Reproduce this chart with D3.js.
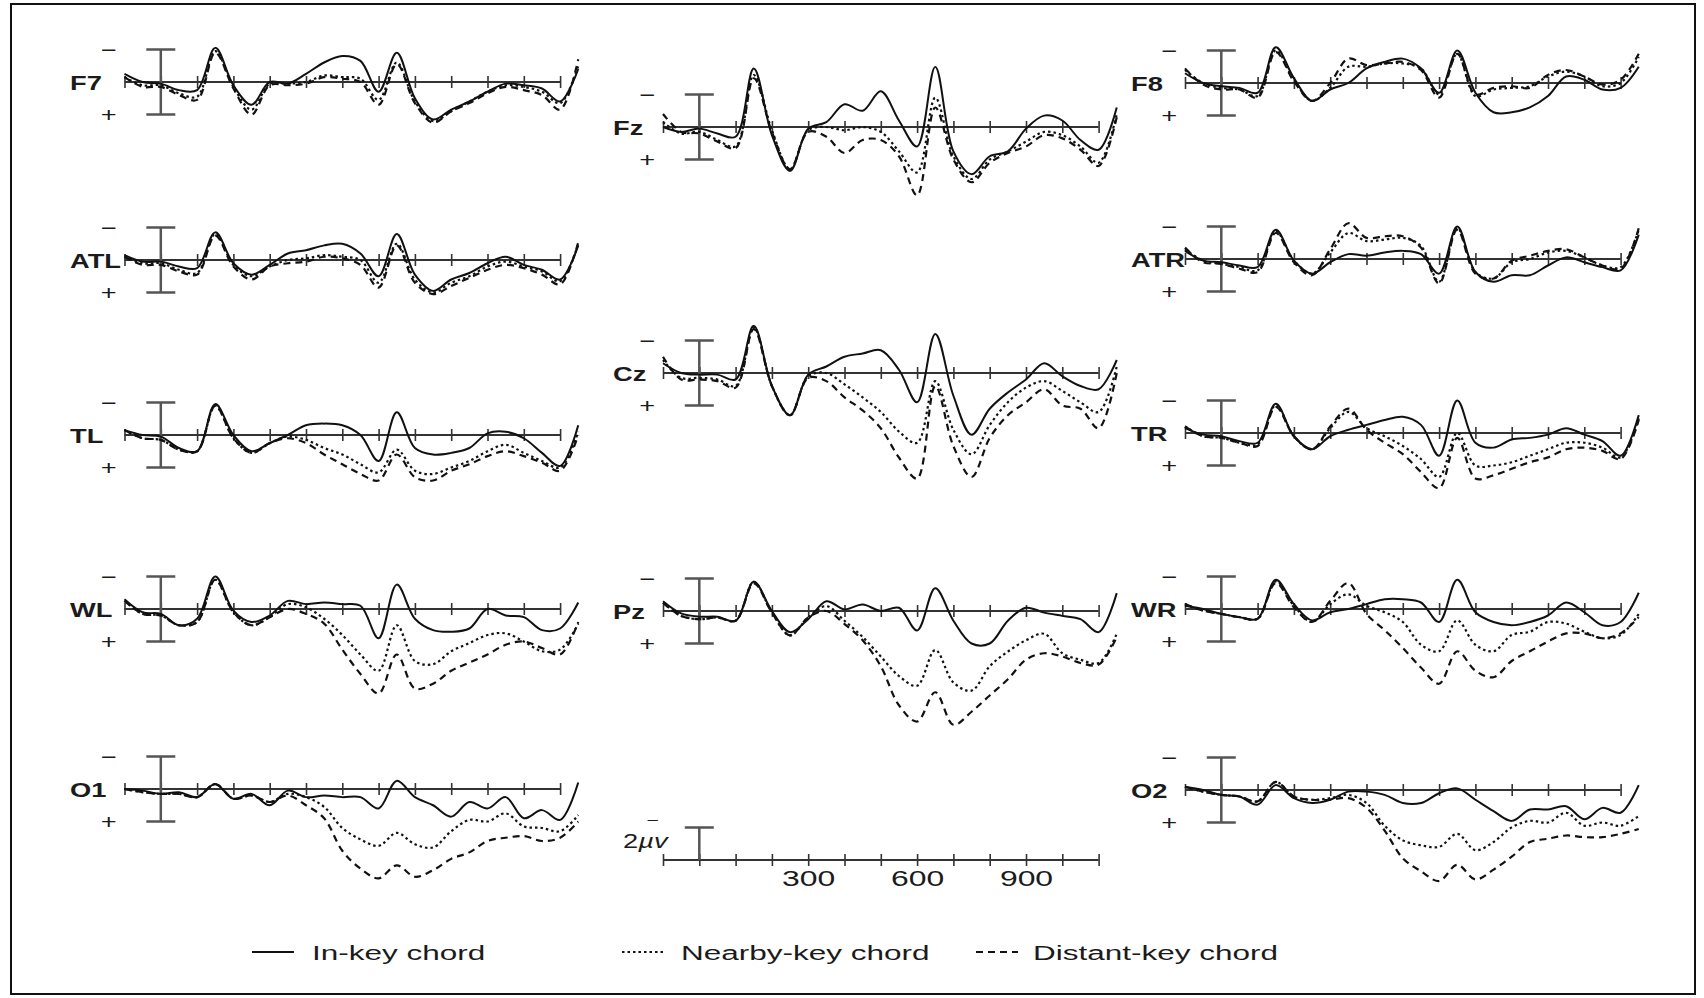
<!DOCTYPE html>
<html>
<head lang="en">
    <meta charset="UTF-8">
    <script type="text/javascript" src="https://cdn.jsdelivr.net/npm/d3@7"></script>
    <title></title>
</head>
<body style="margin:0;background:#fff;">
<style>
    svg text{
        font-family: "Liberation Sans", Arial, Helvetica, sans-serif;
        fill: #1b1b1b;
    }
</style>
<script type="text/javascript">
    // sample times (ms), one value every 50 ms
    var times = [-100,-50,0,50,100,150,200,250,300,350,400,450,500,550,600,650,700,750,800,850,900,950,1000,1050,1100,1150];

    // amplitudes in microvolts, negative is drawn upward
    var F7_in   = [-0.5,0.0,0.1,0.5,0.5,-2.1,0.2,1.4,0.0,0.1,-0.5,-1.2,-1.6,-1.3,0.6,-1.8,1.0,2.3,1.7,1.2,0.6,0.1,0.2,0.4,1.2,-0.8];
    var F7_near = [-0.3,0.2,0.2,0.7,0.9,-1.9,0.3,1.7,0.1,0.1,0.0,-0.4,-0.3,-0.2,1.1,-1.2,1.2,2.4,1.8,1.2,0.6,0.2,0.3,0.6,1.3,-1.0];
    var F7_far  = [-0.3,0.3,0.3,0.8,1.1,-1.8,0.4,2.0,0.2,0.2,0.1,-0.3,-0.2,0.0,1.4,-1.1,1.3,2.5,1.8,1.3,0.7,0.3,0.5,0.8,1.7,-1.4];

    var ATL_in   = [-0.3,0.1,0.1,0.4,0.5,-1.7,0.2,0.9,0.3,-0.4,-0.6,-0.9,-1.0,-0.4,1.0,-1.6,0.9,1.9,1.2,0.8,0.2,-0.2,0.3,0.6,1.2,-0.9];
    var ATL_near = [-0.2,0.2,0.2,0.6,0.8,-1.6,0.3,1.0,0.4,0.0,-0.1,-0.3,-0.2,0.0,1.4,-1.0,1.2,2.0,1.4,1.0,0.4,0.1,0.4,0.7,1.3,-1.0];
    var ATL_far  = [-0.2,0.3,0.3,0.7,0.9,-1.5,0.4,1.2,0.4,0.2,0.1,-0.2,-0.1,0.3,1.7,-0.9,1.4,2.1,1.6,1.1,0.6,0.3,0.5,0.9,1.5,-1.1];

    var TL_in   = [-0.3,0.0,0.1,0.8,1.0,-1.9,0.0,1.0,0.5,0.0,-0.6,-0.7,-0.6,0.0,1.6,-1.4,0.8,1.2,1.1,0.8,-0.1,-0.2,0.2,1.1,1.9,-0.6];
    var TL_near = [-0.3,0.2,0.3,0.9,1.0,-1.8,0.2,1.1,0.5,0.1,0.3,0.8,1.2,1.8,2.3,0.9,2.2,2.4,2.0,1.6,1.0,0.6,1.1,1.6,2.0,-0.2];
    var TL_far  = [-0.3,0.2,0.3,0.9,1.0,-1.8,0.2,1.1,0.5,0.2,0.5,1.2,1.8,2.4,2.8,1.2,2.6,2.8,2.2,1.8,1.3,1.0,1.3,1.7,2.2,0.0];

    var WL_in   = [-0.6,0.2,0.3,1.0,0.6,-2.0,0.1,0.8,0.4,-0.5,-0.3,-0.4,-0.3,-0.2,1.8,-1.5,0.6,1.3,1.4,1.2,0.0,0.4,0.5,1.3,1.2,-0.4];
    var WL_near = [-0.5,0.3,0.4,1.0,0.8,-1.8,0.2,1.0,0.5,-0.3,-0.1,0.6,1.6,2.8,3.8,1.0,3.2,3.4,2.6,2.1,1.6,1.5,2.0,2.6,2.5,0.9];
    var WL_far  = [-0.5,0.3,0.4,1.0,0.8,-1.8,0.2,1.0,0.5,0.0,0.3,0.9,2.5,4.0,5.2,2.8,4.9,4.6,3.8,3.3,2.8,2.2,2.0,2.4,2.8,0.8];

    var O1_in   = [0.0,0.1,0.3,0.2,0.5,-0.3,0.6,0.3,1.0,0.1,0.5,0.4,0.5,0.5,1.2,-0.5,0.5,1.0,1.7,0.8,1.2,0.5,1.8,1.3,1.9,-0.4];
    var O1_near = [0.0,0.2,0.3,0.3,0.5,-0.3,0.6,0.4,0.8,0.3,0.5,1.1,2.4,3.1,3.5,2.7,3.4,3.6,2.6,1.9,2.0,1.5,2.3,2.4,2.6,1.6];
    var O1_far  = [0.0,0.2,0.3,0.3,0.5,-0.3,0.6,0.4,0.8,0.4,1.0,1.8,3.8,4.9,5.5,4.7,5.4,5.0,4.3,3.9,3.2,3.0,2.9,3.2,3.0,2.0];

    var Fz_in   = [0.0,0.3,0.1,0.4,0.6,-3.6,0.5,2.7,0.1,-0.3,-1.4,-1.0,-2.2,-0.4,1.2,-3.7,1.5,2.9,1.8,1.5,0.1,-0.7,-0.4,0.8,1.4,-1.2];
    var Fz_near = [-0.3,0.4,0.3,0.8,1.2,-3.2,0.2,2.6,0.2,0.0,0.2,0.0,0.3,1.5,2.8,-1.8,1.8,3.2,2.0,1.5,0.9,0.3,0.5,1.2,2.2,-0.8];
    var Fz_far  = [-0.8,0.3,0.4,0.9,1.3,-3.0,0.3,2.6,0.3,0.6,1.6,0.8,0.8,1.8,4.2,-1.2,2.0,3.4,2.2,1.6,1.2,0.5,0.7,1.4,2.4,-0.6];

    var Cz_in   = [-0.6,0.0,0.1,0.1,0.4,-2.9,0.8,2.6,0.1,-0.4,-1.0,-1.2,-1.4,-0.2,1.8,-2.4,1.4,3.8,2.2,1.2,0.4,-0.6,0.2,0.8,1.0,-0.8];
    var Cz_near = [-0.8,0.3,0.3,0.4,0.8,-2.8,0.8,2.6,0.2,0.0,0.7,1.5,2.4,3.6,4.3,0.5,3.5,5.0,3.2,1.8,0.9,0.5,1.1,1.8,2.4,-0.4];
    var Cz_far  = [-1.0,0.4,0.4,0.5,0.9,-2.7,0.8,2.6,0.3,0.5,1.5,2.3,3.4,5.2,6.5,0.8,4.5,6.4,4.0,2.6,1.8,1.0,2.0,2.2,3.4,0.0];

    var Pz_in   = [-0.6,0.15,0.35,0.35,0.6,-1.8,0.0,1.3,0.5,-0.6,-0.1,-0.4,0.0,-0.2,1.2,-1.4,0.6,2.0,2.0,0.6,-0.2,0.1,0.3,0.5,1.3,-1.1];
    var Pz_near = [-0.5,0.3,0.5,0.4,0.6,-1.8,0.1,1.5,0.4,-0.3,0.6,1.6,2.8,4.0,4.6,2.4,4.4,4.9,3.4,2.5,1.8,1.4,2.6,3.0,3.2,1.4];
    var Pz_far  = [-0.5,0.3,0.5,0.4,0.6,-1.7,0.1,1.5,0.4,0.0,0.8,1.8,3.4,5.8,6.8,5.0,7.0,6.2,5.2,4.2,3.0,2.6,2.8,3.2,3.3,1.6];

    var F8_in   = [-0.6,0.0,0.2,0.3,0.6,-2.2,-0.3,1.1,0.4,0.0,-0.9,-1.3,-1.5,-0.9,0.6,-2.0,0.6,1.8,1.8,1.5,0.8,-0.4,-0.2,0.4,0.3,-1.0];
    var F8_near = [-0.8,0.0,0.3,0.4,0.8,-2.0,-0.2,1.1,0.3,-1.0,-1.0,-1.2,-1.2,-0.9,0.7,-1.8,0.8,0.4,0.3,0.2,-0.4,-0.7,-0.4,0.2,0.0,-1.6];
    var F8_far  = [-0.9,0.1,0.4,0.4,0.9,-1.9,-0.1,1.1,0.0,-1.5,-1.1,-1.2,-1.3,-0.8,0.9,-1.8,0.7,0.3,0.2,0.3,-0.5,-0.8,-0.4,0.1,-0.2,-1.8];

    var ATR_in   = [-0.5,0.1,0.2,0.4,0.5,-1.8,0.1,0.9,0.2,-0.3,-0.2,-0.4,-0.5,-0.3,0.9,-2.0,0.8,1.4,1.0,1.0,0.4,-0.1,0.2,0.5,0.7,-1.5];
    var ATR_near = [-0.6,0.1,0.3,0.5,0.7,-1.7,0.1,0.9,-0.4,-1.6,-1.1,-1.2,-1.3,-0.8,1.4,-1.9,0.8,1.2,0.2,0.0,-0.4,-0.5,-0.1,0.4,0.5,-1.8];
    var ATR_far  = [-0.7,0.2,0.3,0.6,0.8,-1.6,0.2,1.0,-0.6,-2.2,-1.3,-1.4,-1.4,-0.7,1.5,-1.8,0.9,1.2,0.1,-0.2,-0.5,-0.6,-0.1,0.4,0.6,-1.9];

    var TR_in   = [-0.3,0.1,0.2,0.5,0.6,-1.8,0.2,1.0,0.2,-0.2,-0.5,-0.8,-1.0,-0.5,1.4,-2.0,0.6,0.9,0.4,0.3,0.1,-0.3,0.1,0.5,1.4,-1.1];
    var TR_near = [-0.4,0.2,0.3,0.6,0.7,-1.7,0.2,1.0,-0.3,-1.3,-0.3,0.2,0.8,1.6,2.7,0.0,2.0,2.0,1.8,1.4,1.0,0.6,0.6,0.9,1.5,-0.9];
    var TR_far  = [-0.4,0.2,0.3,0.6,0.8,-1.6,0.2,1.0,-0.4,-1.5,-0.2,0.6,1.3,2.4,3.4,0.3,2.8,2.6,2.2,1.8,1.5,1.0,0.9,1.1,1.6,-0.8];

    var WR_in   = [-0.2,0.0,0.3,0.5,0.6,-1.8,-0.3,0.7,0.2,0.0,-0.3,-0.6,-0.6,-0.4,0.8,-1.8,0.2,0.8,1.0,0.8,0.4,-0.4,0.2,1.0,0.8,-1.0];
    var WR_near = [-0.3,0.1,0.3,0.5,0.6,-1.7,-0.2,0.8,-0.3,-0.9,-0.2,0.2,0.8,2.2,2.6,0.7,2.2,2.6,1.6,1.4,0.8,0.9,1.4,1.8,1.6,0.3];
    var WR_far  = [-0.3,0.1,0.3,0.5,0.6,-1.6,-0.1,0.8,-0.5,-1.6,0.3,1.3,2.4,3.6,4.6,2.6,3.8,4.2,3.2,2.6,2.0,1.5,1.5,1.8,1.5,0.5];

    var O2_in   = [-0.2,0.0,0.3,0.4,0.9,-0.3,0.5,0.8,0.6,0.1,0.1,0.3,0.8,0.8,0.2,-0.1,0.6,1.3,1.9,1.2,1.2,1.0,1.8,1.1,1.4,-0.3];
    var O2_near = [-0.2,0.1,0.3,0.4,0.7,-0.5,0.4,0.6,0.5,0.3,0.8,2.2,3.1,3.4,3.5,2.7,3.7,3.2,2.3,1.9,2.0,1.4,2.2,2.0,2.2,1.6];
    var O2_far  = [-0.2,0.1,0.3,0.4,0.7,-0.5,0.4,0.6,0.6,0.5,1.1,2.5,4.2,5.0,5.6,4.6,5.5,4.9,4.1,3.2,3.0,2.8,2.9,2.9,2.7,2.4];

    var conditions = ["In-key chord", "Nearby-key chord", "Distant-key chord"];
    var timeTicks = [-100,0,100,200,300,400,500,600,700,800,900,1000,1100];
    var scaleLabels = [300, 600, 900];

    // layout
    var w1 = 1704, h1 = 998;
    var colX = {left: 124.5, mid: 663, right: 1185};    // x of -100 ms
    var labelX = {left: 70, mid: 613, right: 1131};
    var axisLen = 435.6;                                 // -100 .. 1100 ms
    var pxPerUv = 16.25;
    var dashes = [null, "2.5,3", "7,5"];

    var panels = [
        {name: "F7",  col: "left",  y: 82,  data: [F7_in, F7_near, F7_far]},
        {name: "ATL", col: "left",  y: 260, data: [ATL_in, ATL_near, ATL_far]},
        {name: "TL",  col: "left",  y: 435, data: [TL_in, TL_near, TL_far]},
        {name: "WL",  col: "left",  y: 609, data: [WL_in, WL_near, WL_far]},
        {name: "O1",  col: "left",  y: 789, data: [O1_in, O1_near, O1_far]},
        {name: "Fz",  col: "mid",   y: 127, data: [Fz_in, Fz_near, Fz_far]},
        {name: "Cz",  col: "mid",   y: 373, data: [Cz_in, Cz_near, Cz_far]},
        {name: "Pz",  col: "mid",   y: 611, data: [Pz_in, Pz_near, Pz_far]},
        {name: "F8",  col: "right", y: 83,  data: [F8_in, F8_near, F8_far]},
        {name: "ATR", col: "right", y: 259, data: [ATR_in, ATR_near, ATR_far]},
        {name: "TR",  col: "right", y: 433, data: [TR_in, TR_near, TR_far]},
        {name: "WR",  col: "right", y: 609, data: [WR_in, WR_near, WR_far]},
        {name: "O2",  col: "right", y: 790, data: [O2_in, O2_near, O2_far]}
    ];

    var svg = d3.select("body")
            .append("svg")
            .attr("width", w1)
            .attr("height", h1);

    // frame
    svg.append("rect")
            .attr("x", 11).attr("y", 4)
            .attr("width", 1684).attr("height", 990)
            .attr("fill", "none")
            .attr("stroke", "#111")
            .attr("stroke-width", 2);

    // stretched text helper (the source figure is wider than its letters)
    function stext(g, x, y, str, size, sx, anchor, weight){
        return g.append("text")
                .attr("transform", "translate(" + x + "," + y + ") scale(" + sx + ",1)")
                .attr("text-anchor", anchor || "start")
                .attr("font-size", size)
                .attr("font-weight", weight || "normal")
                .text(str);
    }

    function timeAxis(g, x, y0){
        var axis = d3.axisBottom(x).tickValues(timeTicks).tickSize(12).tickFormat("");
        g.append("g")
                .attr("transform", "translate(0," + (y0 - 6) + ")")
                .attr("color", "#333")
                .call(axis)
                .call(function(s){ s.select(".domain").remove(); })
                .selectAll("line").attr("stroke-width", 1.6);
        g.append("line")
                .attr("x1", x(-100)).attr("x2", x(1100))
                .attr("y1", y0).attr("y2", y0)
                .attr("stroke", "#333")
                .attr("stroke-width", 2);
    }

    panels.forEach(function(p){
        var x = d3.scaleLinear().domain([-100, 1100]).range([colX[p.col], colX[p.col] + axisLen]);
        var y = d3.scaleLinear().domain([-2, 2]).range([p.y - 2 * pxPerUv, p.y + 2 * pxPerUv]);
        var g = svg.append("g");

        timeAxis(g, x, p.y);

        // 2 uV calibration bar at stimulus onset
        var bx = x(0);
        g.append("line").attr("x1", bx).attr("x2", bx).attr("y1", y(-2)).attr("y2", y(2));
        g.append("line").attr("x1", bx - 14.5).attr("x2", bx + 14.5).attr("y1", y(-2)).attr("y2", y(-2));
        g.append("line").attr("x1", bx - 14.5).attr("x2", bx + 14.5).attr("y1", y(2)).attr("y2", y(2));
        g.selectAll("line").filter(function(){ return !this.getAttribute("stroke"); })
                .attr("stroke", "#555").attr("stroke-width", 2.5);

        stext(g, bx - 52, y(-2) + 7, "\u2212", 21, 1.3, "middle");
        stext(g, bx - 52, y(2) + 7, "+", 21, 1.3, "middle");
        stext(g, labelX[p.col], p.y + 8, p.name, 21, 1.3, "start", "bold");

        // waveforms
        var line = d3.line()
                .x(function(d, j){ return x(times[j]); })
                .y(function(d){ return y(d); })
                .curve(d3.curveCatmullRom.alpha(0.5));
        p.data.forEach(function(vals, i){
            g.append("path")
                    .datum(vals)
                    .attr("d", line)
                    .attr("fill", "none")
                    .attr("stroke", "#111")
                    .attr("stroke-width", i === 0 ? 2 : 2.2)
                    .attr("stroke-dasharray", dashes[i]);
        });
    });

    // scale panel: time axis with labels and 2 uV bar
    var sx = d3.scaleLinear().domain([-100, 1100]).range([colX.mid, colX.mid + axisLen]);
    var sy = d3.scaleLinear().domain([-2, 2]).range([860 - 2 * pxPerUv, 860 + 2 * pxPerUv]);
    var sg = svg.append("g");
    timeAxis(sg, sx, 860);
    sg.append("g")
            .attr("transform", "translate(0,860)")
            .call(d3.axisBottom(sx).tickValues(scaleLabels).tickSize(0).tickPadding(10))
            .call(function(s){ s.select(".domain").remove(); })
            .selectAll("text")
            .attr("font-size", 22)
            .attr("font-family", "'Liberation Sans', Arial, sans-serif")
            .attr("fill", "#1b1b1b")
            .attr("transform", "scale(1.45,1)");
    sg.append("line").attr("x1", sx(0)).attr("x2", sx(0)).attr("y1", sy(-2)).attr("y2", sy(0))
            .attr("stroke", "#555").attr("stroke-width", 2.5);
    sg.append("line").attr("x1", sx(0) - 14.5).attr("x2", sx(0) + 14.5).attr("y1", sy(-2)).attr("y2", sy(-2))
            .attr("stroke", "#555").attr("stroke-width", 2.5);
    stext(sg, sx(0) - 47, 825, "\u2212", 14, 1.5, "middle");
    var unit = stext(sg, 623, 848, "2", 21, 1.3, "start");
    unit.append("tspan").attr("font-style", "italic").text("\u00b5v");

    // legend
    var lg = svg.append("g");
    var legX = [252, 622, 976];
    var legTextX = [312, 681, 1033];
    conditions.forEach(function(c, i){
        lg.append("line")
                .attr("x1", legX[i]).attr("x2", legX[i] + 42)
                .attr("y1", 952).attr("y2", 952)
                .attr("stroke", "#111")
                .attr("stroke-width", 2)
                .attr("stroke-dasharray", dashes[i]);
        stext(lg, legTextX[i], 960, c, 21, 1.5, "start");
    });
</script>

</body>
</html>
